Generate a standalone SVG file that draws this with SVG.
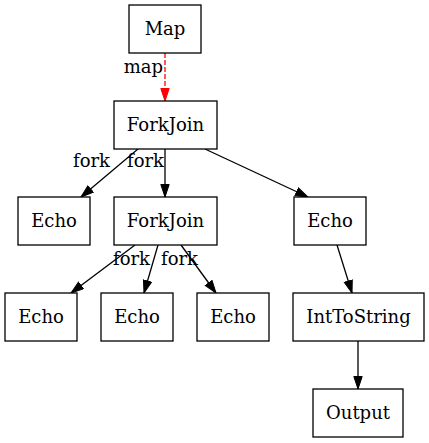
<svg xmlns="http://www.w3.org/2000/svg" width="429" height="443" viewBox="0 0 429 443" font-family="'DejaVu Serif',serif" font-size="18">
<style>
.n rect{fill:#fff;stroke:#000;stroke-width:1.3}
text{font-family:'DejaVu Serif','Liberation Serif',serif;font-size:18px;fill:#000}
.n text{text-anchor:middle}
.e{stroke:#000;stroke-width:1.3;fill:none;marker-end:url(#a)}
.r{stroke:#f00;stroke-dasharray:5,2;marker-end:url(#ar)}
</style>
<defs>
<marker id="a" markerUnits="userSpaceOnUse" markerWidth="14" markerHeight="11" refX="13" refY="4.7" orient="auto" viewBox="0 0 14 11"><path d="M0.5,0.5 L13,4.7 L0.5,8.9 Z" fill="#000" stroke="#000"/></marker>
<marker id="ar" markerUnits="userSpaceOnUse" markerWidth="14" markerHeight="11" refX="13" refY="4.7" orient="auto" viewBox="0 0 14 11"><path d="M0.5,0.5 L13,4.7 L0.5,8.9 Z" fill="#f00" stroke="#f00"/></marker>
</defs>
<rect width="429" height="443" fill="#fff"/>
<g id="edges">
<path class="e r" d="M165,53 L165,101"/>
<text x="163" y="73" text-anchor="end">map</text>
<path class="e" d="M138,149 L81,197"/>
<text x="110" y="167" text-anchor="end">fork</text>
<path class="e" d="M165,149 L165,197"/>
<text x="127" y="167">fork</text>
<path class="e" d="M205,149 L308,197"/>
<path class="e" d="M135,245 L71,293"/>
<text x="113" y="265">fork</text>
<path class="e" d="M158,245 L144,293"/>
<text x="161" y="265">fork</text>
<path class="e" d="M181,245 L216,293"/>
<path class="e" d="M337,245 L352,293"/>
<path class="e" d="M358,341 L358,389"/>
</g>
<g id="map" class="n"><rect x="129" y="5" width="72" height="48"/><text x="165" y="35">Map</text></g>
<g id="forkjoin1" class="n"><rect x="114" y="101" width="103" height="48"/><text x="165.5" y="131">ForkJoin</text></g>
<g id="echo1" class="n"><rect x="18" y="197" width="72" height="48"/><text x="54" y="227">Echo</text></g>
<g id="forkjoin2" class="n"><rect x="114" y="197" width="103" height="48"/><text x="165.5" y="227">ForkJoin</text></g>
<g id="echo2" class="n"><rect x="294" y="197" width="72" height="48"/><text x="330" y="227">Echo</text></g>
<g id="echo3" class="n"><rect x="5" y="293" width="72" height="48"/><text x="41" y="323">Echo</text></g>
<g id="echo4" class="n"><rect x="101" y="293" width="72" height="48"/><text x="137" y="323">Echo</text></g>
<g id="echo5" class="n"><rect x="197" y="293" width="72" height="48"/><text x="233" y="323">Echo</text></g>
<g id="inttostring" class="n"><rect x="293" y="293" width="131" height="48"/><text x="358.5" y="323">IntToString</text></g>
<g id="output" class="n"><rect x="313" y="389" width="90" height="48"/><text x="358" y="419">Output</text></g>
</svg>
